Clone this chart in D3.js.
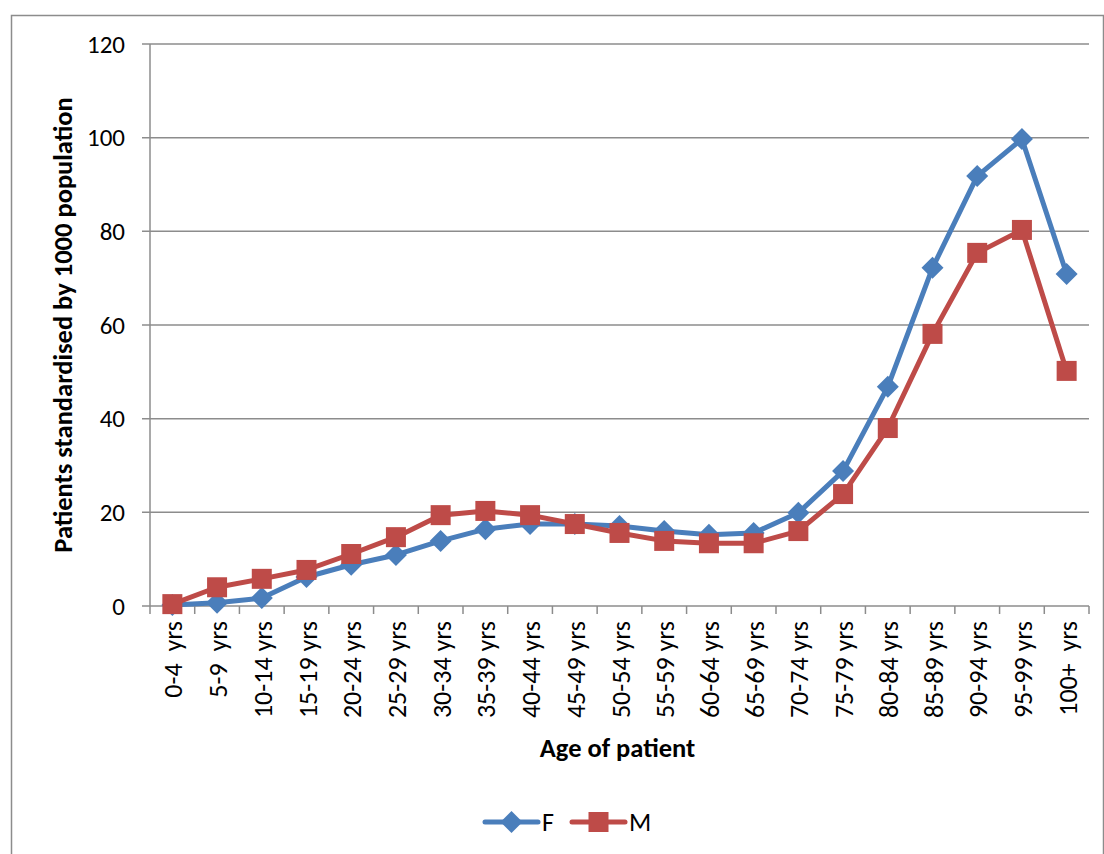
<!DOCTYPE html>
<html>
<head>
<meta charset="utf-8">
<script src="https://cdn.jsdelivr.net/npm/d3@7"></script>
<style>
  body { margin: 0; background: #fff; }
  text { font-family: Carlito, "Open Sans", "Liberation Sans", sans-serif; fill: #000; }
</style>
</head>
<body>
<div id="chart"></div>
<script>
// age groups and rates per 1000 population
var ageGroups = ["0-4  yrs", "5-9  yrs", "10-14 yrs", "15-19 yrs", "20-24 yrs", "25-29 yrs", "30-34 yrs",
                 "35-39 yrs", "40-44 yrs", "45-49 yrs", "50-54 yrs", "55-59 yrs", "60-64 yrs", "65-69 yrs",
                 "70-74 yrs", "75-79 yrs", "80-84 yrs", "85-89 yrs", "90-94 yrs", "95-99 yrs", "100+  yrs"];
var femaleRates = [0.2, 0.7, 1.7, 6.2, 8.8, 10.9, 13.9, 16.4, 17.5, 17.5, 17.1, 16.0, 15.2, 15.6,
                   19.9, 28.8, 46.8, 72.2, 91.8, 99.7, 70.9];
var maleRates = [0.4, 4.0, 5.8, 7.7, 11.1, 14.7, 19.4, 20.3, 19.4, 17.5, 15.6, 13.9, 13.4, 13.4,
                 16.0, 23.9, 38.0, 58.1, 75.4, 80.3, 50.2];
var yTicks = [0, 20, 40, 60, 80, 100, 120];

var W = 1104, H = 854;
var margin = {top: 44, right: 15, bottom: 248, left: 150};
var width = W - margin.left - margin.right;
var height = H - margin.top - margin.bottom;

var svg = d3.select("#chart").append("svg")
    .attr("width", W).attr("height", H);

// chart border
svg.append("rect")
    .attr("x", 11.5).attr("y", 15.5)
    .attr("width", W - 12).attr("height", H)
    .attr("fill", "none").attr("stroke", "#8c8c8c").attr("stroke-width", 1.5);

var g = svg.append("g").attr("transform", "translate(" + margin.left + "," + margin.top + ")");

var x = d3.scaleBand().domain(ageGroups).range([0, width]);
var y = d3.scaleLinear().domain([0, 120]).range([height, 0]);

var gridColor = "#8c8c8c";

// gridlines + y ticks
g.selectAll("line.grid").data(yTicks).enter().append("line")
    .attr("class", "grid")
    .attr("x1", -8).attr("x2", width)
    .attr("y1", function(d) { return y(d); }).attr("y2", function(d) { return y(d); })
    .attr("stroke", gridColor).attr("stroke-width", 1.5);

g.selectAll("text.ytick").data(yTicks).enter().append("text")
    .attr("class", "ytick")
    .attr("x", -25).attr("y", function(d) { return y(d); })
    .attr("dy", "0.35em").attr("text-anchor", "end")
    .style("font-size", "25px")
    .text(function(d) { return d; });

// y axis line
g.append("line").attr("x1", 0).attr("x2", 0).attr("y1", 0).attr("y2", height + 8)
    .attr("stroke", gridColor).attr("stroke-width", 1.5);

// x ticks at band edges
var edges = ageGroups.map(function(d) { return x(d) + x.bandwidth(); });
g.selectAll("line.xtick").data(edges).enter().append("line")
    .attr("class", "xtick")
    .attr("x1", function(d) { return d; }).attr("x2", function(d) { return d; })
    .attr("y1", height).attr("y2", height + 8)
    .attr("stroke", gridColor).attr("stroke-width", 1.5);

// x labels rotated
g.selectAll("text.xlab").data(ageGroups).enter().append("text")
    .attr("class", "xlab")
    .attr("transform", function(d) {
        return "translate(" + (x(d) + x.bandwidth() / 2 + 1) + "," + (height + 15) + ") rotate(-90)";
    })
    .attr("dy", "0.35em").attr("text-anchor", "end")
    .style("font-size", "26px")
    .text(function(d) { return d.replace("  ", " \u00a0"); });

// axis titles
g.append("text")
    .attr("transform", "translate(" + (-87) + "," + (height / 2) + ") rotate(-90)")
    .attr("text-anchor", "middle").attr("dy", "0.35em")
    .style("font-size", "26.5px").style("font-weight", "bold")
    .text("Patients standardised by 1000 population");

g.append("text")
    .attr("x", width / 2 - 2).attr("y", height + 142)
    .attr("text-anchor", "middle").attr("dy", "0.35em")
    .style("font-size", "26.5px").style("font-weight", "bold")
    .text("Age of patient");

var series = [
    {name: "F", values: femaleRates, color: "#4a7ebb", shape: "diamond"},
    {name: "M", values: maleRates, color: "#be4b48", shape: "square"}
];

var line = d3.line()
    .x(function(d, i) { return x(ageGroups[i]) + x.bandwidth() / 2; })
    .y(function(d) { return y(d); });

function drawMarker(sel, shape, color) {
    if (shape === "diamond") {
        sel.append("path").attr("d", "M0,-11L11,0L0,11L-11,0Z").attr("fill", color);
    } else {
        sel.append("rect").attr("x", -10).attr("y", -10).attr("width", 20).attr("height", 20)
            .attr("fill", color);
    }
}

series.forEach(function(s) {
    g.append("path").datum(s.values)
        .attr("d", line).attr("fill", "none")
        .attr("stroke", s.color).attr("stroke-width", 5).attr("stroke-linejoin", "round");
    g.selectAll("g.m-" + s.name).data(s.values).enter().append("g")
        .attr("class", "m-" + s.name)
        .attr("transform", function(d, i) {
            return "translate(" + (x(ageGroups[i]) + x.bandwidth() / 2) + "," + y(d) + ")";
        })
        .each(function() { drawMarker(d3.select(this), s.shape, s.color); });
});

// legend
var legend = svg.append("g").attr("transform", "translate(485,822)");
var lx = [0, 87];
series.forEach(function(s, i) {
    var lg = legend.append("g").attr("transform", "translate(" + lx[i] + ",0)");
    lg.append("line").attr("x1", 0).attr("x2", 53).attr("y1", 0).attr("y2", 0)
        .attr("stroke", s.color).attr("stroke-width", 5).attr("stroke-linecap", "round");
    var m = lg.append("g").attr("transform", "translate(26.5,0)");
    drawMarker(m, s.shape, s.color);
    lg.append("text").attr("x", 57).attr("y", 0).attr("dy", "0.35em")
        .style("font-size", "26px").text(s.name);
});
</script>
</body>
</html>
